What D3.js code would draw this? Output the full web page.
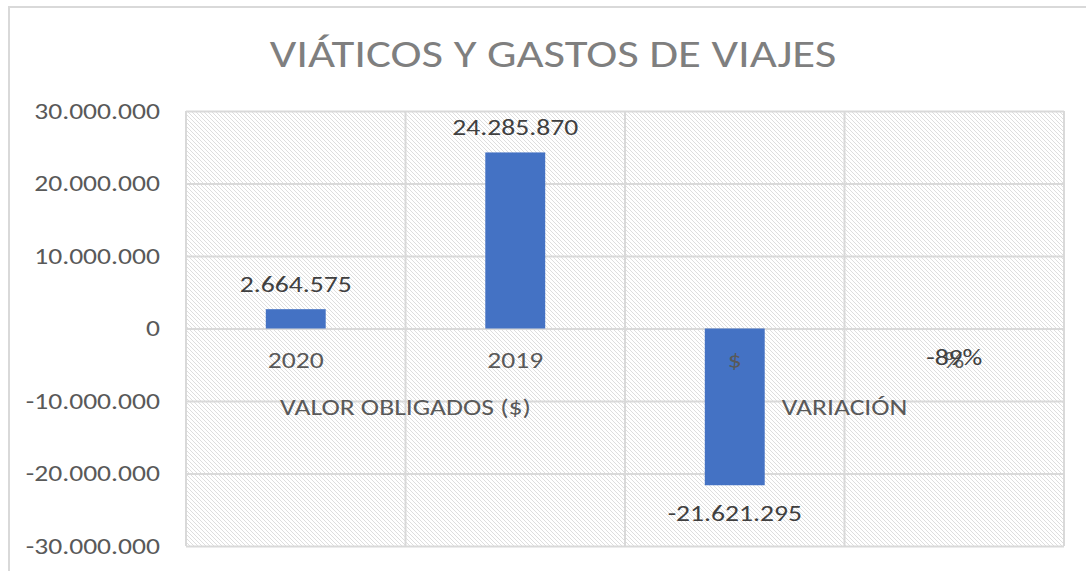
<!DOCTYPE html>
<html>
<head>
<meta charset="utf-8">
<script src="https://cdn.jsdelivr.net/npm/d3@7"></script>
<style>
  html, body { margin: 0; padding: 0; background: #fff; }
  svg { display: block; }
  text { font-family: Carlito, "Open Sans", "Noto Sans", sans-serif; }
</style>
</head>
<body>
<svg id="chart" width="1086" height="571"></svg>
<script>
// ---- data ----
const title = "VIÁTICOS Y GASTOS DE VIAJES";
const categories = ["2020", "2019", "$", "%"];
const groups = ["VALOR OBLIGADOS ($)", "VARIACIÓN"];
const categoryGroup = [0, 0, 1, 1];
const values = [2664575, 24285870, -21621295, -0.89];
const valueIsPercent = [false, false, false, true];
const yTicks = [-30000000, -20000000, -10000000, 0, 10000000, 20000000, 30000000];
const yDomain = [-30000000, 30000000];

// ---- layout ----
const W = 1086, H = 571;
const plot = { left: 186, right: 1064, top: 111, bottom: 546 };
const SX = 1.2;   // horizontal stretch of the text, as in the reference
const FS = 23;

const locale = d3.formatLocale({ decimal: ",", thousands: ".", grouping: [3], currency: ["$", ""], minus: "-" });
const fmtNum = locale.format(",.0f");
const fmtPct = locale.format(".0%");

const svg = d3.select("#chart");

// hatch pattern
const defs = svg.append("defs");
const pat = defs.append("pattern")
  .attr("id", "hatch").attr("patternUnits", "userSpaceOnUse")
  .attr("width", 4).attr("height", 4);
pat.append("rect").attr("width", 4).attr("height", 4).attr("fill", "#ffffff");
pat.append("path")
  .attr("d", "M-1,-1 L5,5 M3,-1 L5,1 M-1,3 L1,5")
  .attr("stroke", "#dedede").attr("stroke-width", 1);

// chart area border
svg.append("rect")
  .attr("x", 9).attr("y", 7).attr("width", 1200).attr("height", 700)
  .attr("fill", "#fff").attr("stroke", "#d9d9d9").attr("stroke-width", 2);

function placed(sel, fx, fy) {
  return sel.attr("x", 0).attr("y", 0)
    .attr("transform", (d, i) => `translate(${fx(d, i)},${fy(d, i)}) scale(${SX},1)`);
}

// title
placed(svg.append("text").datum(title), () => 553, () => 67)
  .attr("text-anchor", "middle")
  .attr("font-size", 39)
  .attr("fill", "#7f7f7f")
  .text(d => d);

const x = d3.scaleBand().domain(categories).range([plot.left, plot.right]).paddingInner(0).paddingOuter(0);
const y = d3.scaleLinear().domain(yDomain).range([plot.bottom, plot.top]);
const barW = x.bandwidth() * 0.273;

// plot background (hatched)
svg.append("rect")
  .attr("x", plot.left).attr("y", plot.top)
  .attr("width", plot.right - plot.left).attr("height", plot.bottom - plot.top)
  .attr("fill", "url(#hatch)");

// horizontal gridlines
svg.append("g")
  .attr("transform", `translate(${plot.left},0)`)
  .call(d3.axisLeft(y).tickValues(yTicks).tickSize(-(plot.right - plot.left)).tickFormat(""))
  .call(g => g.select(".domain").remove())
  .call(g => g.selectAll("line").attr("stroke", "#d9d9d9").attr("stroke-width", 2));

// vertical gridlines at category boundaries
const bounds = categories.map(c => x(c)).concat([plot.right]);
svg.append("g").selectAll("line").data(bounds).join("line")
  .attr("x1", d => d).attr("x2", d => d)
  .attr("y1", plot.top).attr("y2", plot.bottom)
  .attr("stroke", "#d9d9d9").attr("stroke-width", 2);

// y axis labels
svg.append("g")
  .attr("transform", `translate(${plot.left - 26},0)`)
  .call(d3.axisLeft(y).tickValues(yTicks).tickSize(0).tickPadding(0).tickFormat(d => fmtNum(d)))
  .call(g => g.select(".domain").remove())
  .call(g => g.selectAll("text").attr("font-size", FS).attr("fill", "#595959")
      .attr("transform", `scale(${SX},1)`)
      .attr("font-family", 'Carlito, "Open Sans", "Noto Sans", sans-serif'));

// bars
const data = categories.map((c, i) => ({ c, v: values[i], pct: valueIsPercent[i] }));
svg.append("g").selectAll("rect").data(data).join("rect")
  .attr("x", d => x(d.c) + x.bandwidth() / 2 - barW / 2)
  .attr("width", barW)
  .attr("y", d => y(Math.max(0, d.v)))
  .attr("height", d => Math.abs(y(d.v) - y(0)))
  .attr("fill", "#4472c4");

// level-1 category labels
placed(svg.append("g").selectAll("text").data(categories).join("text"),
    d => x(d) + x.bandwidth() / 2, () => 368)
  .attr("text-anchor", "middle")
  .attr("font-size", FS)
  .attr("fill", "#595959")
  .text(d => d);

// level-2 group labels
const groupInfo = groups.map((g, gi) => {
  const cats = categories.filter((c, i) => categoryGroup[i] === gi);
  const x0 = x(cats[0]), x1 = x(cats[cats.length - 1]) + x.bandwidth();
  return { g, cx: (x0 + x1) / 2 };
});
placed(svg.append("g").selectAll("text").data(groupInfo).join("text"),
    d => d.cx, () => 415)
  .attr("text-anchor", "middle")
  .attr("font-size", FS)
  .attr("fill", "#595959")
  .text(d => d.g);

// data labels
placed(svg.append("g").selectAll("text").data(data).join("text"),
    d => x(d.c) + x.bandwidth() / 2,
    d => d.v >= 0 ? y(d.v) - 17 : y(d.v) + 36)
  .attr("text-anchor", "middle")
  .attr("font-size", FS)
  .attr("fill", "#404040")
  .text(d => d.pct ? fmtPct(d.v) : fmtNum(d.v));
</script>
</body>
</html>
